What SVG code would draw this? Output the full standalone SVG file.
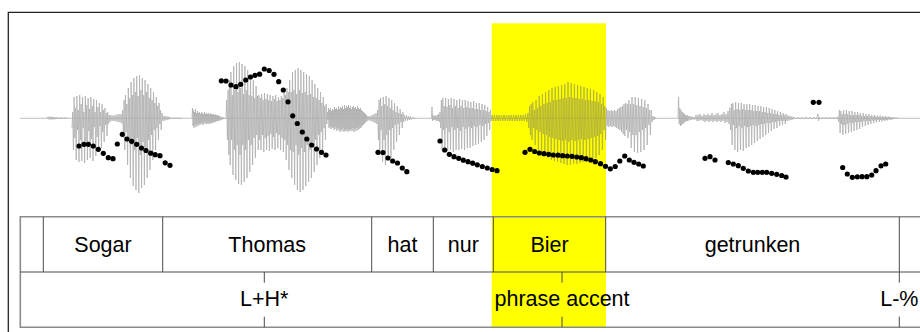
<svg xmlns="http://www.w3.org/2000/svg" width="920" height="332" viewBox="0 0 920 332">
  <style>
    .wave { fill: none; stroke: #6e6e6e; stroke-width: 0.8; stroke-linejoin: miter; }
    .f0 circle { fill: #000; }
    .frame { fill: none; stroke: #222; stroke-width: 1.3; }
    .outer { stroke: #8a8a8a; stroke-width: 1.6; fill: none; }
    .inner { stroke: #4a4a4a; stroke-width: 1; fill: none; }
    .lbl { font-family: "Liberation Sans", Arial, sans-serif; font-size: 21.5px; fill: #000; text-anchor: middle; }
  </style>

  <rect width="920" height="332" fill="#fff"/>

  <!-- outer plot frame -->
  <path class="frame" d="M8.3,332 V12.3 H920"/>

  <!-- highlighted interval -->
  <rect id="highlight" x="491.7" y="23.3" width="114.3" height="304.5" fill="#ffff00"/>

  <!-- oscillogram, drawn semi-transparent so the highlight shows through -->
  <g id="waveform" class="wave" opacity="0.55">
    <path d="M20,118.3 H920"/>
    <polyline points="47,118 48,116.8 49,119.3 50,116.5 51,119.6 52,116.7 53,119.5 54,117 55,119.2 56,117.2 57,119 58,117.5 59,118.7 61,117.6 63,118.5 65,117.8 67,118"/>
    <!-- So -->
    <polyline points="72,128 72.7,112 73.4,150 74.1,97 74.8,138 75.5,108 76.2,160 76.9,96 77.6,130 78.3,110 79,162 79.7,95 80.4,140 81.1,104 81.8,161 82.5,97 83.2,128 83.9,112 84.6,163 85.3,96 86,142 86.7,105 87.4,160 88.1,98 88.8,131 89.5,109 90.2,158 90.9,97 91.6,139 92.3,106 93,161 93.7,99 94.4,127 95.1,112 95.8,156 96.5,100 97.2,137 97.9,107 98.6,152 99.3,103 100,126 100.7,112 101.4,148 102.1,104 102.8,132 103.5,110 104.2,142 104.9,108 105.6,125 106.3,113 107,136 107.7,112 108.4,124 109.1,115 110,122 111,115 112,121 113,115.5 114,121 115,115 116,121.5 117,114.5 118,122 119,114 120,122.5 121,114 122,123"/>
    <!-- gar -->
    <polyline points="122,124 122.7,110 123.4,138 124.1,100 124.8,150 125.5,95 126.2,132 126.9,104 127.6,165 128.3,88 129,140 129.7,98 130.4,178 131.1,82 131.8,145 132.5,95 133.2,186 133.9,78 134.6,150 135.3,92 136,190 136.7,76 137.4,138 138.1,96 138.8,193 139.5,75 140.2,155 140.9,90 141.6,188 142.3,78 143,142 143.7,95 144.4,185 145.1,80 145.8,150 146.5,92 147.2,178 147.9,84 148.6,140 149.3,98 150,170 150.7,88 151.4,135 152.1,100 152.8,160 153.5,92 154.2,130 154.9,103 155.6,150 156.3,97 157,128 157.7,106 158.4,140 159.1,103 159.8,124 160.5,110 161.2,130 162,113 163,121 164,116 165,120.5 166,116 167,120 168,116.5 169,119.5 170,117 172,119 174,117.5 176,118.8 178,117.6 180,118.6 182,117.8"/>
    <!-- fricative noise -->
    <polyline points="192,118 192.5,108 193,126 193.5,110 194,128 194.5,112 195,125 195.5,109 196,127 196.5,113 197,124 197.5,111 198,126 198.5,113 199,124 199.5,112 200,125 200.5,114 201,123 201.5,112 202,124 202.5,113 203,125 203.5,114 204,122 204.5,112 205,124 205.5,114 206,123 206.5,113 207,124 207.5,114 208,123 208.5,113 209,124 209.5,114.5 210,122.5 210.5,113.5 211,123.5 211.5,114 212,123 212.5,114.5 213,122 213.5,114 214,122.5 214.5,115 215,122 215.5,114.5 216,121.5 216.5,115 217,121 217.5,115.5 218,121 218.5,115.5 219,120.5 219.5,116 220,120.5 221,116.5 222,120 223,117 224,119 225,118"/>
    <!-- Thomas -->
    <polyline points="226,118 226.7,100 227.4,140 228.1,90 228.8,155 229.5,80 230.2,165 230.9,72 231.6,140 232.3,95 233,175 233.7,66 234.4,150 235.1,90 235.8,180 236.5,63 237.2,145 237.9,92 238.6,184 239.3,62 240,155 240.7,88 241.4,185 242.1,64 242.8,145 243.5,94 244.2,182 244.9,66 245.6,150 246.3,90 247,178 247.7,70 248.4,140 249.1,95 249.8,172 250.5,75 251.2,145 251.9,96 252.6,165 253.3,80 254,138 254.7,98 255.4,158 256.1,86 256.8,135 257.5,96 258.2,150 258.9,95 259.6,140 260.3,98 261,150 261.7,94 262.4,135 263.1,100 263.8,152 264.5,93 265.2,138 265.9,99 266.6,150 267.3,94 268,136 268.7,100 269.4,151 270.1,95 270.8,134 271.5,101 272.2,149 272.9,96 273.6,137 274.3,99 275,150 275.7,95 276.4,133 277.1,101 277.8,148 278.5,97 279.2,135 279.9,100 280.6,150 281.3,96 282,138 282.7,98 283.4,152 284.1,92 284.8,140 285.5,95 286.2,160 286.9,88 287.6,145 288.3,92 289,170 289.7,80 290.4,150 291.1,92 291.8,178 292.5,72 293.2,152 293.9,90 294.6,185 295.3,70 296,145 296.7,94 297.4,190 298.1,68 298.8,155 299.5,90 300.2,192 300.9,70 301.6,148 302.3,93 303,190 303.7,72 304.4,152 305.1,92 305.8,186 306.5,74 307.2,145 307.9,95 308.6,182 309.3,76 310,150 310.7,94 311.4,178 312.1,80 312.8,142 313.5,97 314.2,172 314.9,84 315.6,140 316.3,98 317,165 317.7,88 318.4,135 319.1,100 319.8,158 320.5,92 321.2,132 321.9,103 322.6,150 323.3,97 324,128 324.7,106 325.4,140 326.1,104 326.8,124 327.5,112 328,120"/>
    <polyline points="328,120 328.5,108 329,128 329.5,110 330,126 330.5,108 331,129 331.5,111 332,127 332.5,109 333,128 333.5,110 334,130 334.5,107 335,127 335.5,109 336,129 336.5,108 337,131 337.5,110 338,128 338.5,106 339,130 339.5,109 340,132 340.5,107 341,129 341.5,108 342,131 342.5,106 343,128 343.5,109 344,132 344.5,105 345,130 345.5,108 346,131 346.5,106 347,129 347.5,107 348,132 348.5,105 349,130 349.5,108 350,131 350.5,106 351,129 351.5,109 352,131 352.5,107 353,128 353.5,106 354,132 354.5,108 355,129 355.5,107 356,131 356.5,109 357,128 357.5,106 358,130 358.5,108 359,129 359.5,109 360,127 360.5,108 361,128 361.5,110 362,126 362.5,111 363,125 363.5,112 364,124 364.5,113 365,123 365.5,114 366,122 366.5,115 367,121 368,116 369,120.5 370,116 371,121 372,115 373,122 374,114 375,123 376,113 377,124"/>
    <!-- hat -->
    <polyline points="377,124 377.7,110 378.4,140 379.1,100 379.8,155 380.5,98 381.2,130 381.9,106 382.6,162 383.3,97 384,140 384.7,104 385.4,165 386.1,96 386.8,135 387.5,106 388.2,160 388.9,98 389.6,130 390.3,108 391,158 391.7,100 392.4,128 393.1,110 393.8,150 394.5,103 395.2,125 395.9,112 396.6,142 397.3,106 398,124 398.7,113 399.4,135 400.1,109 400.8,122 401.5,114 402.2,128 402.9,112 403.6,122 404.5,115 405.5,121 406.5,115.5 407.5,120.5 408.5,116 409.5,120 410.5,116.5 411.5,119.5 413,117.5 415,118.5"/>
    <!-- nur -->
    <polyline points="431.5,118 432,107 432.5,121 433,115 433.7,120 434.4,116 435.1,120 435.8,115.5 436.5,121 437.2,115 437.9,121 438.6,114 439.3,122 440,112 440.7,128 441.4,100 442.1,150 442.8,98 443.5,130 444.2,106 444.9,152 445.6,98 446.3,128 447,107 447.7,151 448.4,99 449.1,132 449.8,105 450.5,150 451.2,98 451.9,127 452.6,108 453.3,152 454,99 454.7,130 455.4,106 456.1,150 456.8,100 457.5,128 458.2,108 458.9,150 459.6,99 460.3,131 461,106 461.7,149 462.4,100 463.1,127 463.8,108 464.5,150 465.2,100 465.9,129 466.6,107 467.3,148 468,101 468.7,127 469.4,108 470.1,148 470.8,102 471.5,128 472.2,108 472.9,146 473.6,101 474.3,126 475,109 475.7,145 476.4,103 477.1,127 477.8,109 478.5,144 479.2,103 479.9,125 480.6,110 481.3,142 482,104 482.7,126 483.4,110 484.1,140 484.8,105 485.5,124 486.2,111 486.9,136 487.6,107 488.3,123 489,112 489.7,130 490.4,110 491.1,121 492,115 493.2,121 494.4,115 495.6,121 496.8,115 498,121 499.2,115 500.4,121 501.6,115 502.8,121 504,115 505.2,121 506.4,115 507.6,121 508.8,115 510,121 511.2,115 512.4,121 513.6,115 514.8,121 516,115 517.2,121 518.4,115 519.6,121 520.8,115 522,121 523.2,115 524.4,121 525.6,114 526.8,122 528,113"/>
    <!-- Bier -->
    <polyline points="528,113 528.8,128 529.6,106 530.4,135 531.2,104 532,140 532.8,102 533.6,128 534.4,110 535.2,145 536,100 536.8,130 537.6,108 538.4,150 539.2,96 540,132 540.8,106 541.6,153 542.4,94 543.2,134 544,104 544.8,156 545.6,92 546.4,135 547.2,103 548,158 548.8,90 549.6,137 550.4,102 551.2,160 552,88 552.8,138 553.6,100 554.4,161 555.2,87 556,139 556.8,100 557.6,162 558.4,86 559.2,140 560,99 560.8,163 561.6,85 562.4,141 563.2,98 564,164 564.8,84 565.6,140 566.4,98 567.2,165 568,82 568.8,142 569.6,97 570.4,165 571.2,83 572,140 572.8,98 573.6,164 574.4,84 575.2,141 576,98 576.8,164 577.6,85 578.4,140 579.2,99 580,163 580.8,86 581.6,139 582.4,99 583.2,162 584,87 584.8,140 585.6,100 586.4,162 587.2,88 588,139 588.8,100 589.6,161 590.4,89 591.2,138 592,101 592.8,160 593.6,90 594.4,137 595.2,101 596,158 596.8,92 597.6,136 598.4,102 599.2,155 600,94 600.8,134 601.6,104 602.4,150 603.2,97 604,130 604.8,106 605.6,140 606.4,108 607.2,126 608,110 608.8,127 609.6,111 610.4,126 611.2,110 612,127 612.8,111 613.6,126 614.4,110 615.2,127 616,111 616.8,128 617.6,109 618.4,129 619.2,108 620,130 620.8,107 621.6,132 622.4,106 623.2,134 624,104 624.8,136 625.6,103 626.4,130 627.2,104 628,138 628.8,100 629.6,132 630.4,104 631.2,148 632,97 632.8,135 633.6,104 634.4,152 635.2,97 636,135 636.8,105 637.6,153 638.4,98 639.2,132 640,106 640.8,152 641.6,99 642.4,130 643.2,107 644,150 644.8,100 645.6,128 646.4,108 647.2,145 648,104 648.8,125 649.6,110 650.4,135 651.2,110 652,122 653,116 654,120 655,117 656,119"/>
    <!-- getrunken -->
    <polyline points="678,118 678.6,97 679.2,124 679.8,108 680.4,126 681,110 681.6,125 682.2,112 682.8,124 683.4,113 684,123 684.6,114 685.2,122 685.8,115 686.4,121 687,115 687.6,121 688.2,116 689,120.5 690,116 691,120 692,116.5 693,119.5 694,117 695,119.5 696,115 697,121 698,115 699,121 700,114 701,120 702,116 703,121 704,114 705,122 706,115 707,121 708,114 709,122 710,115 711,121 712,113 713,122 714,115 715,121 716,114 717,122 718,113 719,121 720,115 721,122 722,114 723,121 724,112 725,123 726,114 727,122 728,111 729,124 729.8,108 730.6,130 731.4,104 732.1,145 732.8,103 733.5,125 734.2,110 734.9,150 735.6,102 736.3,128 737,109 737.7,152 738.4,103 739.1,126 739.8,110 740.5,150 741.2,103 741.9,128 742.6,109 743.3,151 744,104 744.7,126 745.4,110 746.1,148 746.8,104 747.5,127 748.2,110 748.9,147 749.6,104 750.3,126 751,110 751.7,145 752.4,105 753.1,125 753.8,111 754.5,143 755.2,105 755.9,126 756.6,111 757.3,141 758,106 758.7,125 759.4,111 760.1,139 760.8,106 761.5,124 762.2,112 762.9,137 763.6,107 764.3,124 765,112 765.7,135 766.4,107 767.1,123 767.8,113 768.5,133 769.2,108 769.9,123 770.6,113 771.3,131 772,109 772.7,122 773.4,114 774.1,129 774.8,110 775.5,122 776.2,114 776.9,128 777.6,111 778.3,121 779,115 779.7,126 780.4,112 781.1,121 781.8,115 782.5,125 783.2,113 783.9,121 784.6,115.5 785.3,124 786,114 787,121 788,115.5 789,120.5 790,116 791,120 792,116.5 793,119.5 794,117 796,119 798,117 800,119 802,117.5 804,118.7 806,117.3 808,118.7 810,117.5 812,119 814,117 816,119 817,117 818,114 818.5,121 819,117 820,119 822,117.5 824,118.5 826,117.5 828,118.5 830,117.5 832,118.7 834,117.2 836,119 837,117 838,117 838.7,122 839.4,110 840.1,133 840.8,111 841.5,124 842.2,114 842.9,135 843.6,110 844.3,125 845,114 845.7,134 846.4,110 847.1,124 847.8,114 848.5,133 849.2,111 849.9,123 850.6,115 851.3,132 852,111 852.7,123 853.4,115 854.1,131 854.8,112 855.5,122 856.2,115 856.9,130 857.6,112 858.3,122 859,115 859.7,129 860.4,113 861.1,122 861.8,116 862.5,127 863.2,113 863.9,121 864.6,116 865.3,126 866,114 866.7,121 867.4,116 868.1,125 868.8,114 869.5,121 870.2,116.5 870.9,124 871.6,115 872.3,120.5 873,116.5 873.7,123 874.4,115 875.1,120.5 875.8,116.5 876.5,122.5 877.2,115.5 877.9,120 878.6,117 879.3,122 880,115.5 880.7,120 881.4,117 882.1,121.5 882.8,116 883.5,120 884.2,117 884.9,121 885.6,116 886.3,120 887,117 887.7,120.5 888.4,116.5 889.1,119.5 889.8,117 890.5,120 891.2,117 892,119.5 893,117 894,119 895,117.5 896,118.5 897,117.7 898,118.3"/>
  </g>

  <!-- F0 track -->
  <g id="pitch" class="f0">
    <circle cx="79" cy="146" r="2.6"/><circle cx="84" cy="144.3" r="2.6"/><circle cx="88.3" cy="144.3" r="2.6"/><circle cx="93.3" cy="146" r="2.6"/><circle cx="98.3" cy="149.3" r="2.6"/><circle cx="103.3" cy="153.3" r="2.6"/><circle cx="108.3" cy="157.7" r="2.6"/><circle cx="113" cy="158.7" r="2.6"/>
    <circle cx="117.3" cy="144" r="2.6"/><circle cx="122.3" cy="134.3" r="2.6"/><circle cx="127" cy="139" r="2.6"/><circle cx="131.7" cy="141.3" r="2.6"/><circle cx="136.7" cy="144.3" r="2.6"/><circle cx="141.5" cy="148" r="2.6"/><circle cx="146" cy="150.5" r="2.6"/><circle cx="150.7" cy="153.2" r="2.6"/><circle cx="155.2" cy="154.7" r="2.6"/><circle cx="160" cy="155.7" r="2.6"/><circle cx="165.2" cy="162.8" r="2.6"/><circle cx="170" cy="165.3" r="2.6"/>
    <circle cx="221.3" cy="80.8" r="2.6"/><circle cx="226" cy="81" r="2.6"/><circle cx="231" cy="85" r="2.6"/><circle cx="236" cy="86.7" r="2.6"/><circle cx="240.7" cy="84.3" r="2.6"/><circle cx="245.7" cy="80" r="2.6"/><circle cx="250.4" cy="77" r="2.6"/><circle cx="255" cy="75.3" r="2.6"/><circle cx="259.6" cy="74.2" r="2.6"/><circle cx="264.3" cy="69" r="2.6"/><circle cx="269.2" cy="70.5" r="2.6"/><circle cx="274" cy="74.3" r="2.6"/><circle cx="278.7" cy="81.7" r="2.6"/><circle cx="283.3" cy="90" r="2.6"/><circle cx="288" cy="101.8" r="2.6"/><circle cx="292.7" cy="115.8" r="2.6"/><circle cx="297.3" cy="123.5" r="2.6"/><circle cx="302.3" cy="132" r="2.6"/><circle cx="306.8" cy="139" r="2.6"/><circle cx="311.7" cy="145" r="2.6"/><circle cx="316.5" cy="149" r="2.6"/><circle cx="321.5" cy="152.3" r="2.6"/><circle cx="326" cy="155" r="2.6"/>
    <circle cx="378" cy="152.3" r="2.6"/><circle cx="383" cy="152.5" r="2.6"/><circle cx="388" cy="158" r="2.6"/><circle cx="392.7" cy="161" r="2.6"/><circle cx="397.5" cy="163" r="2.6"/><circle cx="402.3" cy="168" r="2.6"/><circle cx="406.8" cy="171.7" r="2.6"/>
    <circle cx="440" cy="141" r="2.6"/><circle cx="444.7" cy="150" r="2.6"/><circle cx="449.3" cy="154.3" r="2.6"/><circle cx="454" cy="156.7" r="2.6"/><circle cx="458.7" cy="158.3" r="2.6"/><circle cx="463.3" cy="160.2" r="2.6"/><circle cx="468" cy="161.7" r="2.6"/><circle cx="472.7" cy="163.2" r="2.6"/><circle cx="477.3" cy="164.8" r="2.6"/><circle cx="482.3" cy="166.5" r="2.6"/><circle cx="487.3" cy="168" r="2.6"/><circle cx="492.2" cy="169.5" r="2.6"/><circle cx="497" cy="170.7" r="2.6"/>
    <circle cx="525" cy="152.3" r="2.6"/><circle cx="530" cy="149.3" r="2.6"/><circle cx="534.7" cy="151.5" r="2.6"/><circle cx="539.3" cy="153" r="2.6"/><circle cx="544" cy="153.7" r="2.6"/><circle cx="548.7" cy="154.3" r="2.6"/><circle cx="553.3" cy="155" r="2.6"/><circle cx="558" cy="155.2" r="2.6"/><circle cx="562.7" cy="155.7" r="2.6"/><circle cx="567.3" cy="156" r="2.6"/><circle cx="572" cy="156.3" r="2.6"/><circle cx="576.7" cy="157" r="2.6"/><circle cx="581.3" cy="157.7" r="2.6"/><circle cx="586" cy="158.7" r="2.6"/><circle cx="590.7" cy="160" r="2.6"/><circle cx="595.3" cy="161.7" r="2.6"/><circle cx="600.5" cy="163.7" r="2.6"/><circle cx="605.5" cy="166.3" r="2.6"/><circle cx="610.3" cy="168.8" r="2.6"/><circle cx="615.2" cy="166.5" r="2.6"/><circle cx="619.8" cy="161" r="2.6"/><circle cx="624.7" cy="156" r="2.6"/><circle cx="629.3" cy="160" r="2.6"/><circle cx="634" cy="162.3" r="2.6"/><circle cx="638.7" cy="164" r="2.6"/><circle cx="643.3" cy="166" r="2.6"/>
    <circle cx="705" cy="158.3" r="2.6"/><circle cx="710" cy="156.7" r="2.6"/><circle cx="715" cy="160" r="2.6"/>
    <circle cx="728.3" cy="162.5" r="2.6"/><circle cx="733.3" cy="164" r="2.6"/><circle cx="738.3" cy="165.7" r="2.6"/><circle cx="743.3" cy="168.3" r="2.6"/><circle cx="748.3" cy="171" r="2.6"/><circle cx="753.3" cy="172.3" r="2.6"/><circle cx="757.7" cy="172.3" r="2.6"/><circle cx="762.3" cy="172.3" r="2.6"/><circle cx="766.7" cy="172.3" r="2.6"/><circle cx="771.7" cy="173.3" r="2.6"/><circle cx="776.7" cy="174.3" r="2.6"/><circle cx="781.7" cy="175.5" r="2.6"/><circle cx="786" cy="177" r="2.6"/>
    <circle cx="813.3" cy="102.3" r="2.6"/><circle cx="819" cy="102.3" r="2.6"/>
    <circle cx="842.7" cy="167.5" r="2.6"/><circle cx="847.3" cy="174" r="2.6"/><circle cx="852.3" cy="177.3" r="2.6"/><circle cx="857.3" cy="176.8" r="2.6"/><circle cx="862" cy="176.7" r="2.6"/><circle cx="866.8" cy="176.7" r="2.6"/><circle cx="871.7" cy="175" r="2.6"/><circle cx="876" cy="170.7" r="2.6"/><circle cx="881" cy="165.8" r="2.6"/><circle cx="885.7" cy="164" r="2.6"/>
  </g>

  <!-- annotation tiers -->
  <g id="tiers">
    <path class="outer" d="M920,216.7 H20.3 V327.3 H920"/>
    <path class="inner" d="M20.3,272 H920"/>
    <path class="inner" d="M43.3,216.7 V272 M162.7,216.7 V272 M371.7,216.7 V272 M433.3,216.7 V272 M493.3,216.7 V272 M605.7,216.7 V272 M899.3,216.7 V272"/>
    <path class="inner" d="M264.3,272 V282.7 M264.3,316.7 V327.3 M562,272 V282.7 M562,316.7 V327.3 M899.3,272 V282.7 M899.3,316.7 V327.3"/>
  </g>

  <g id="words">
    <text class="lbl" x="103" y="251.5">Sogar</text>
    <text class="lbl" x="267.2" y="251.5">Thomas</text>
    <text class="lbl" x="402.5" y="251.5">hat</text>
    <text class="lbl" x="463.3" y="251.5">nur</text>
    <text class="lbl" x="549.5" y="251.5">Bier</text>
    <text class="lbl" x="752.5" y="251.5">getrunken</text>
  </g>

  <g id="tones">
    <text class="lbl" x="264.3" y="306">L+H*</text>
    <text class="lbl" x="562" y="306">phrase accent</text>
    <text class="lbl" x="899.3" y="306">L-%</text>
  </g>
</svg>
